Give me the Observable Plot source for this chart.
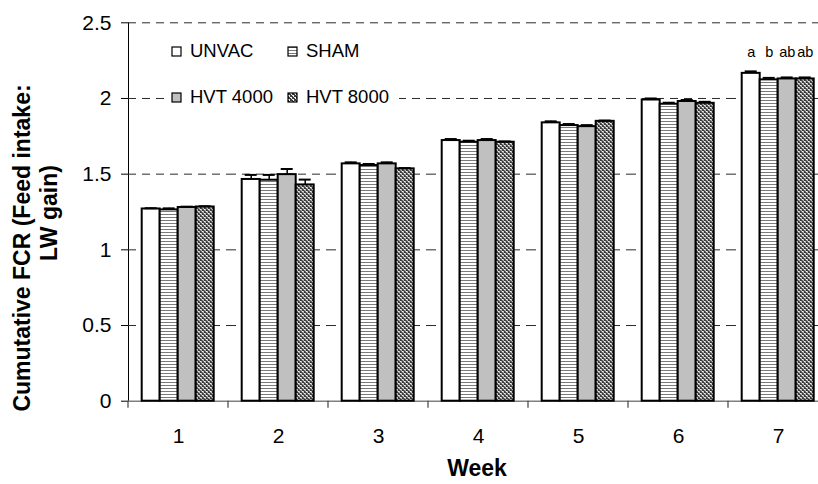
<!DOCTYPE html>
<html><head><meta charset="utf-8">
<script src="https://cdn.jsdelivr.net/npm/d3@7"></script>
<script src="https://cdn.jsdelivr.net/npm/@observablehq/plot@0.6"></script>
<style>
body{margin:0;background:#fff;}
#wrap{position:relative;width:818px;height:484px;overflow:hidden;font-family:"Liberation Sans",Arial,sans-serif;background:#fff;}
#wrap svg.plotsvg{position:absolute;left:0;top:0;}
.abs{position:absolute;white-space:nowrap;}
</style></head><body>
<svg width="0" height="0" style="position:absolute">
  <defs>
    <pattern id="pSham" patternUnits="userSpaceOnUse" width="4" height="3">
      <rect width="4" height="3" fill="#fff"/>
      <rect y="1" width="4" height="1" fill="#7a7a7a"/>
    </pattern>
    <pattern id="pHvt8" patternUnits="userSpaceOnUse" width="4" height="4">
      <rect width="4" height="4" fill="#f4f4f4"/>
      <path d="M0,0h1v1h-1z M1,1h1v1h-1z M2,2h1v1h-1z M3,3h1v1h-1z M1,0h1v1h-1z M2,1h1v1h-1z M3,2h1v1h-1z M0,3h1v1h-1z M3,0h1v1h-1z M1,2h1v1h-1z" fill="#3a3a3a"/>
    </pattern>
  </defs>
</svg>
<div id="wrap"></div>
<script>
// ---- data ----
const weeks = [1, 2, 3, 4, 5, 6, 7];
const series = ["UNVAC", "SHAM", "HVT 4000", "HVT 8000"];
const unvac   = [1.270, 1.465, 1.568, 1.722, 1.839, 1.990, 2.166];
const sham    = [1.264, 1.460, 1.557, 1.711, 1.821, 1.962, 2.123];
const hvt4000 = [1.280, 1.497, 1.568, 1.722, 1.814, 1.980, 2.129];
const hvt8000 = [1.283, 1.429, 1.535, 1.711, 1.849, 1.968, 2.129];
const errUnvac   = [0.005, 0.030, 0.010, 0.010, 0.010, 0.010, 0.013];
const errSham    = [0.010, 0.035, 0.010, 0.010, 0.010, 0.010, 0.013];
const errHvt4000 = [0.005, 0.037, 0.010, 0.010, 0.010, 0.010, 0.010];
const errHvt8000 = [0.005, 0.035, 0.005, 0.005, 0.005, 0.010, 0.010];
const week7Letters = ["a", "b", "ab", "ab"];
const yTicks = [0, 0.5, 1, 1.5, 2, 2.5];

// ---- styles ----
const fills = ["#ffffff", "url(#pSham)", "#c0c0c0", "url(#pHvt8)"];

const values = [unvac, sham, hvt4000, hvt8000];
const errs = [errUnvac, errSham, errHvt4000, errHvt8000];
const rows = [];
series.forEach((s, i) => weeks.forEach((w, j) => rows.push({week: w, series: s, value: values[i][j], err: errs[i][j]})));
const w7 = rows.filter(d => d.week === 7);
const w7Top = d3.max(w7, d => d.value + d.err);
const letterRows = series.map((s, i) => ({week: 7, series: s, label: week7Letters[i], y: w7Top}));

const chart = Plot.plot({
  width: 829, height: 484,
  marginLeft: 127.3, marginRight: 0, marginTop: 22.3, marginBottom: 83.3,
  style: {maxWidth: "none", fontFamily: "'Liberation Sans', Arial, sans-serif", fontSize: "21px", background: "white", color: "black"},
  fx: {domain: weeks, padding: 0, axis: "bottom", tickSize: 0, tickPadding: 27, label: null},
  x: {domain: series, paddingInner: 0, paddingOuter: 0.7, axis: null},
  y: {domain: [0, 2.5], ticks: 5, tickFormat: d => String(d), tickSize: 7, tickPadding: 10, line: true, label: null},
  color: {type: "ordinal", domain: series, range: fills},
  marks: [
    Plot.ruleY(yTicks.filter(t => t > 0), {stroke: "#2a2a2a", strokeWidth: 1, strokeDasharray: "8,6"}),
    Plot.ruleY([0], {stroke: "#808080", strokeWidth: 1.5}),
    Plot.barY(rows, {fx: "week", x: "series", y: "value", fill: "series", stroke: "black", strokeWidth: 2}),
    Plot.ruleX(rows, {fx: "week", x: "series", y1: "value", y2: d => d.value + d.err, stroke: "black", strokeWidth: 1.5}),
    Plot.tickY(rows, {fx: "week", x: "series", y: d => d.value + d.err, stroke: "black", strokeWidth: 2, insetLeft: 3, insetRight: 3}),
    Plot.text(letterRows, {fx: "week", x: "series", y: "y", text: "label", dy: -19, fontSize: 14.5, fill: "black"})
  ]
});
chart.classList.add("plotsvg");
const wrap = document.getElementById("wrap");
wrap.appendChild(chart);

// boundary ticks on the x axis, from Plot's scales
const fxs = chart.scale("fx"), ys = chart.scale("y");
const y0 = ys.apply(0);
const edges = weeks.map(w => fxs.apply(w)).concat([fxs.apply(weeks[weeks.length - 1]) + fxs.bandwidth]);
d3.select(chart).append("g").selectAll("line").data(edges).join("line")
  .attr("x1", d => d).attr("x2", d => d).attr("y1", y0).attr("y2", y0 + 7)
  .attr("stroke", "#444").attr("stroke-width", 1.2);

// legend (HTML overlay)
const leg = document.createElement("div");
leg.className = "abs";
leg.style.cssText = "left:167px;top:33px;width:232px;height:79px;background:#fff;";
wrap.appendChild(leg);
const legPos = [[172, 51], [288, 51], [172, 97], [288, 97]];
series.forEach((s, i) => {
  const [lx, ly] = legPos[i];
  const sw = document.createElementNS("http://www.w3.org/2000/svg", "svg");
  sw.setAttribute("width", 11); sw.setAttribute("height", 11);
  sw.setAttribute("class", "abs");
  sw.style.left = (lx - 1) + "px"; sw.style.top = (ly - 5.5) + "px";
  sw.innerHTML = `<rect x="1" y="1" width="9" height="9" fill="${fills[i]}" stroke="black" stroke-width="1.2"/>`;
  wrap.appendChild(sw);
  const t = document.createElement("div");
  t.className = "abs";
  t.textContent = s;
  t.style.cssText += `left:${lx + 18}px;top:${ly - 11}px;font-size:18.5px;line-height:22px;`;
  wrap.appendChild(t);
});

// axis titles
function rotTitle(text, cx, cy) {
  const d = document.createElement("div");
  d.className = "abs";
  d.textContent = text;
  d.style.cssText += `left:${cx}px;top:${cy}px;font-weight:bold;font-size:23px;line-height:27px;transform:translate(-50%,-50%) rotate(-90deg);`;
  wrap.appendChild(d);
}
rotTitle("Cumutative FCR (Feed intake:", 22, 248);
rotTitle("LW gain)", 49, 213);
const xt = document.createElement("div");
xt.className = "abs";
xt.textContent = "Week";
xt.style.cssText += "left:477px;top:468px;font-weight:bold;font-size:23px;line-height:26px;transform:translate(-50%,-50%);";
wrap.appendChild(xt);
</script>
</body></html>
